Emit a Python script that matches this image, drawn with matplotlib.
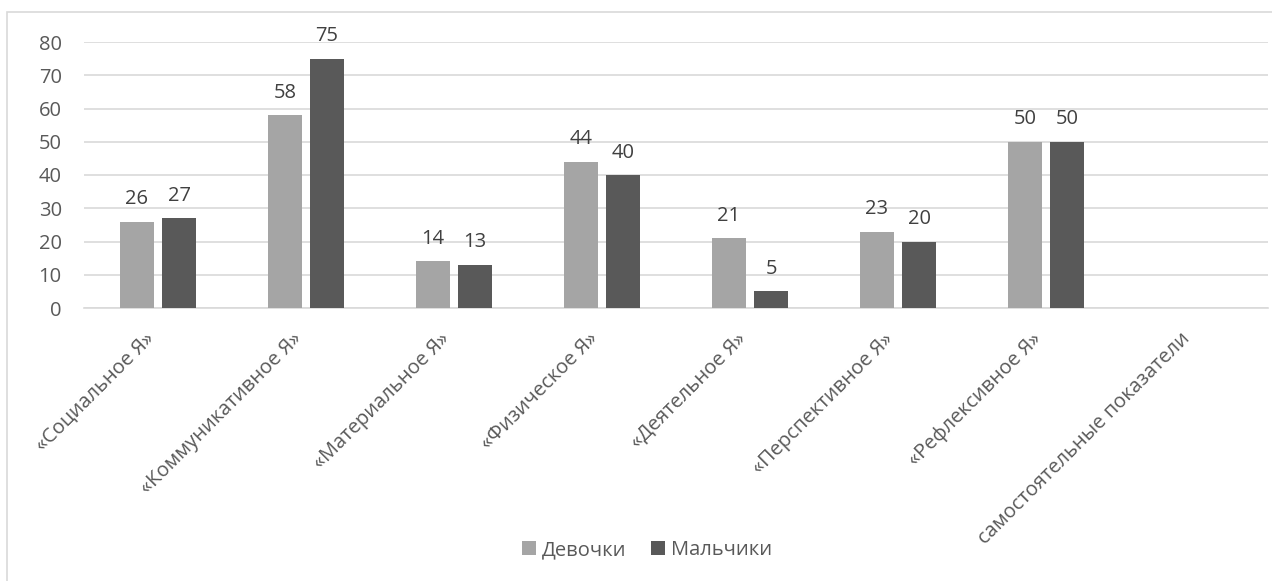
import numpy as np
import matplotlib
matplotlib.use("Agg")
import matplotlib.pyplot as plt
from matplotlib.patches import Rectangle

plt.rcParams['font.family'] = ['Open Sans', 'DejaVu Sans']

categories = ["«Социальное Я»", "«Коммуникативное Я»", "«Материальное Я»",
              "«Физическое Я»", "«Деятельное Я»", "«Перспективное Я»",
              "«Рефлексивное Я»", "самостоятельные показатели"]
girls = [26, 58, 14, 44, 21, 23, 50, np.nan]
boys = [27, 75, 13, 40, 5, 20, 50, np.nan]
series_names = ["Девочки", "Мальчики"]
yticks = [0, 10, 20, 30, 40, 50, 60, 70, 80]

W, H = 1272, 581
fig = plt.figure(figsize=(W / 100, H / 100), dpi=100)

# chart area border
fig.patches.append(Rectangle((7 / W, 0 - 0.05), 1.1, 1 - 12 / H + 0.05,
                             transform=fig.transFigure, fill=False,
                             edgecolor="#D9D9D9", linewidth=1.2))

ax = fig.add_axes([84 / W, 1 - 308 / H, (1268 - 84) / W, (308 - 42) / H])

x = np.arange(len(categories))
bw = 0.225
off = 0.142
text_col = "#595959"
label_col = "#404040"
fs = 14.5

b1 = ax.bar(x - off, girls, bw, color="#A5A5A5", label=series_names[0], zorder=3)
b2 = ax.bar(x + off, boys, bw, color="#595959", label=series_names[1], zorder=3)

for xs, vals in ((x - off, girls), (x + off, boys)):
    for xi, v in zip(xs, vals):
        if np.isnan(v):
            continue
        ax.annotate(f"{v:g}", (xi, v), xytext=(0, 9), textcoords="offset points",
                    ha="center", va="bottom", fontsize=fs, color=label_col,
                    annotation_clip=False)

ax.set_xlim(-0.5, len(categories) - 0.5)
ax.set_ylim(0, 80)
ax.set_yticks(yticks)
ax.yaxis.grid(True, color="#D9D9D9", linewidth=1.2, zorder=0)
ax.set_axisbelow(True)
for s in ("top", "right", "left"):
    ax.spines[s].set_visible(False)
ax.spines["bottom"].set_color("#D9D9D9")
ax.spines["bottom"].set_linewidth(1.2)
ax.tick_params(axis="y", length=0, pad=16, labelsize=fs, labelcolor=text_col)
ax.tick_params(axis="x", length=0, pad=15, labelsize=fs, labelcolor=text_col)
ax.set_xticks(x)
ax.set_xticklabels(categories, rotation=45, ha="right", va="top",
                   rotation_mode="default")

leg = fig.legend(loc="center", bbox_to_anchor=(647 / W, 1 - 550 / H), ncol=2,
                 frameon=False, fontsize=fs, handlelength=0.7, handleheight=0.7,
                 handletextpad=0.3, columnspacing=1.2, labelcolor=text_col)

fig.savefig("out.png", dpi=100)
